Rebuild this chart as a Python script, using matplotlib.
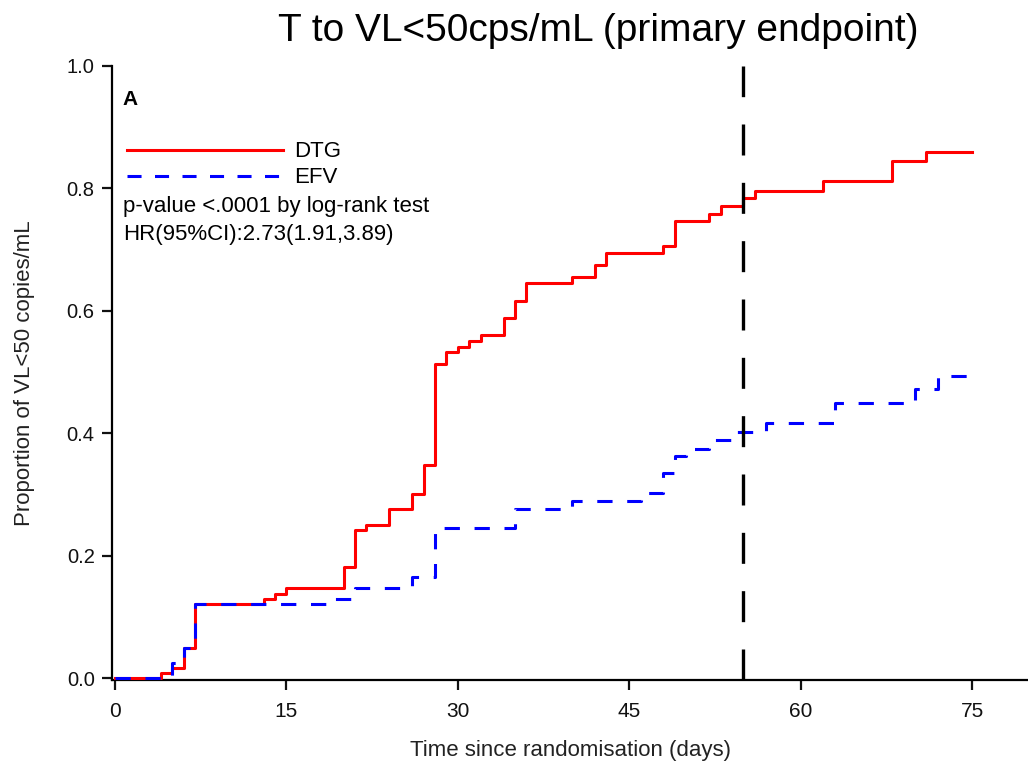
import matplotlib
matplotlib.use("Agg")
import matplotlib.pyplot as plt
from matplotlib.lines import Line2D

plt.rcParams['font.family'] = ['Liberation Sans', 'DejaVu Sans']

# ---- data ----
dtg_days = [0, 4, 5, 6, 7, 13, 14, 15, 20, 21, 22, 24, 26, 27, 28, 29, 30, 31, 32,
            34, 35, 36, 40, 42, 43, 48, 49, 52, 53, 55, 56, 62, 68, 71, 75]
dtg_prop = [0, 0.008, 0.016, 0.049, 0.121, 0.130, 0.138, 0.147, 0.182, 0.242, 0.250,
            0.276, 0.300, 0.348, 0.513, 0.532, 0.541, 0.551, 0.560, 0.589, 0.616,
            0.645, 0.655, 0.675, 0.695, 0.706, 0.747, 0.758, 0.771, 0.784, 0.796,
            0.812, 0.844, 0.859, 0.859]
efv_days = [0, 5, 6, 7, 19, 21, 26, 28, 35, 40, 46, 48, 49, 50, 52, 54, 57, 63, 70, 72, 75]
efv_prop = [0, 0.024, 0.050, 0.121, 0.129, 0.147, 0.165, 0.246, 0.276, 0.289, 0.302,
            0.335, 0.363, 0.375, 0.389, 0.402, 0.416, 0.449, 0.472, 0.494, 0.494]
xticks = [0, 15, 30, 45, 60, 75]
yticks = [0.0, 0.2, 0.4, 0.6, 0.8, 1.0]
cutoff_day = 55
series_names = ["DTG", "EFV"]
title = "T to VL<50cps/mL (primary endpoint)"
pval_text = "p-value <.0001 by log-rank test"
hr_text = "HR(95%CI):2.73(1.91,3.89)"

fig = plt.figure(figsize=(10.28, 7.68), dpi=100)
ax = fig.add_axes([0.109, 0.1146, 0.891, 0.7995])

ax.step(dtg_days, dtg_prop, where='post', color='#FF0000', lw=2.2, zorder=3)
ax.step(efv_days, efv_prop, where='post', color='#0000FF', lw=2.2,
        dashes=(5, 4.8), zorder=4)
ax.axvline(cutoff_day, color='black', lw=2.4, dashes=(9.3, 8.2), zorder=5)

ax.set_xlim(-0.26, 79.9)
ax.set_ylim(-0.003, 1.0)
ax.set_xticks(xticks)
ax.set_xticklabels([str(t) for t in xticks])
ax.set_yticks(yticks)
ax.set_yticklabels([f"{t:.1f}" for t in yticks])

for s in ['top', 'right']:
    ax.spines[s].set_visible(False)
for s in ['left', 'bottom']:
    ax.spines[s].set_linewidth(1.6)
ax.tick_params(axis='both', direction='out', width=1.6, length=7.5, colors='#111111')
ax.tick_params(axis='y', labelsize=14.5, pad=5)
ax.tick_params(axis='x', labelsize=15, pad=8)

ax.set_xlabel("Time since randomisation (days)", fontsize=16, color='#222222', labelpad=14)
ax.set_ylabel("Proportion of VL<50 copies/mL", fontsize=16, color='#222222', labelpad=23)

ax.text(0.0117, 0.945, "A", transform=ax.transAxes, fontsize=15, fontweight='bold',
        va='center', ha='left')

handles = [Line2D([], [], color='#FF0000', lw=2.2),
           Line2D([], [], color='#0000FF', lw=2.2, dashes=(4.6, 4.4))]
leg = ax.legend(handles, series_names, loc='upper left', bbox_to_anchor=(0.0164, 0.877),
                frameon=False, fontsize=16, handlelength=7.0, handletextpad=0.5,
                labelspacing=0.22, borderaxespad=0.0, borderpad=0.0)
ax.text(0.0117, 0.771, pval_text, transform=ax.transAxes, fontsize=16, va='center')
ax.text(0.0117, 0.7256, hr_text, transform=ax.transAxes, fontsize=16, va='center')

fig.text(0.582, 0.960, title, ha='center', va='center', fontsize=28)

fig.savefig("out.png", dpi=100)
